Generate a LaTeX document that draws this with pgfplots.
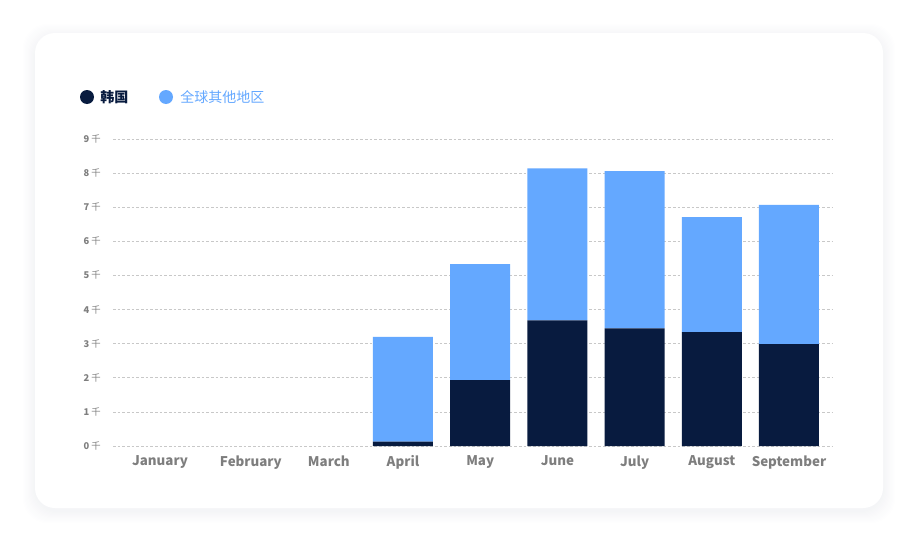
\documentclass[border=0pt]{standalone}
\usepackage{pgfplots}
\pgfplotsset{compat=1.18}
\usepackage{pgfplotstable}
\usepackage{fontspec}
\setmainfont{Noto Sans CJK SC}
\definecolor{navy}{HTML}{081B3F}
\definecolor{lblue}{HTML}{64A8FF}
\definecolor{tickgray}{HTML}{7E7E7E}
\definecolor{gridgray}{HTML}{C8C8C8}
\definecolor{shadowc}{HTML}{1E2850}

\pgfplotstableread{
x korea rest
0 0    0
1 0    0
2 0    0
3 0.13 3.07
4 1.93 3.40
5 3.68 4.46
6 3.45 4.61
7 3.34 3.37
8 2.99 4.08
}\datatable

\begin{document}
\begin{tikzpicture}
\begin{scope}[x=0.75pt,y=-0.75pt]
  \path (0,0) rectangle (918,546);
  \foreach \i in {1,...,12}{
    \fill[shadowc,opacity=0.005,rounded corners=18pt] (35-\i,33-\i+3) rectangle (883+\i,508+\i+3);
  }
  \fill[white,rounded corners=15pt] (35,33) rectangle (883,508);
  % legend
  \fill[navy] (87,97) circle (7);
  \node[anchor=west,inner sep=0,text=navy,font=\fontsize{10.5}{12}\selectfont\bfseries] at (100,97) {韩国};
  \fill[lblue] (166,97) circle (7);
  \node[anchor=west,inner sep=0,text=lblue,font=\fontsize{10.5}{12}\selectfont] at (180,97) {全球其他地区};
\end{scope}
\begin{axis}[
  at={(84.75pt,-334.5pt)}, anchor=south west,
  scale only axis,
  width=539.25pt, height=230.25pt,
  ybar stacked, bar width=45pt,
  xmin=-0.756, xmax=8.557,
  ymin=0, ymax=9,
  axis line style={draw=none},
  xtick={-0.148,1.03,2.04,3,4,5,6,7,8},
  xticklabels={January,February,March,April,May,June,July,August,September},
  ytick={0,1,...,9},
  yticklabels={{\textbf{0} 千},{\textbf{1} 千},{\textbf{2} 千},{\textbf{3} 千},{\textbf{4} 千},{\textbf{5} 千},{\textbf{6} 千},{\textbf{7} 千},{\textbf{8} 千},{\textbf{9} 千}},
  ymajorgrids,
  major grid style={gridgray,dash pattern=on 2pt off 1.5pt,line width=0.5pt},
  major tick length=0pt,
  tick style={draw=none},
  xticklabel style={anchor=north,inner sep=0pt,yshift=-7pt,text=tickgray,font=\fontsize{10}{12}\selectfont\bfseries},
  yticklabel style={anchor=east,inner sep=0pt,xshift=-9pt,text=tickgray,font=\fontsize{7}{8}\selectfont},
  clip=false,
]
\addplot[fill=navy,draw=none] table[x=x,y=korea]{\datatable};
\addplot[fill=lblue,draw=none] table[x=x,y=rest]{\datatable};
\end{axis}
\end{tikzpicture}
\end{document}
